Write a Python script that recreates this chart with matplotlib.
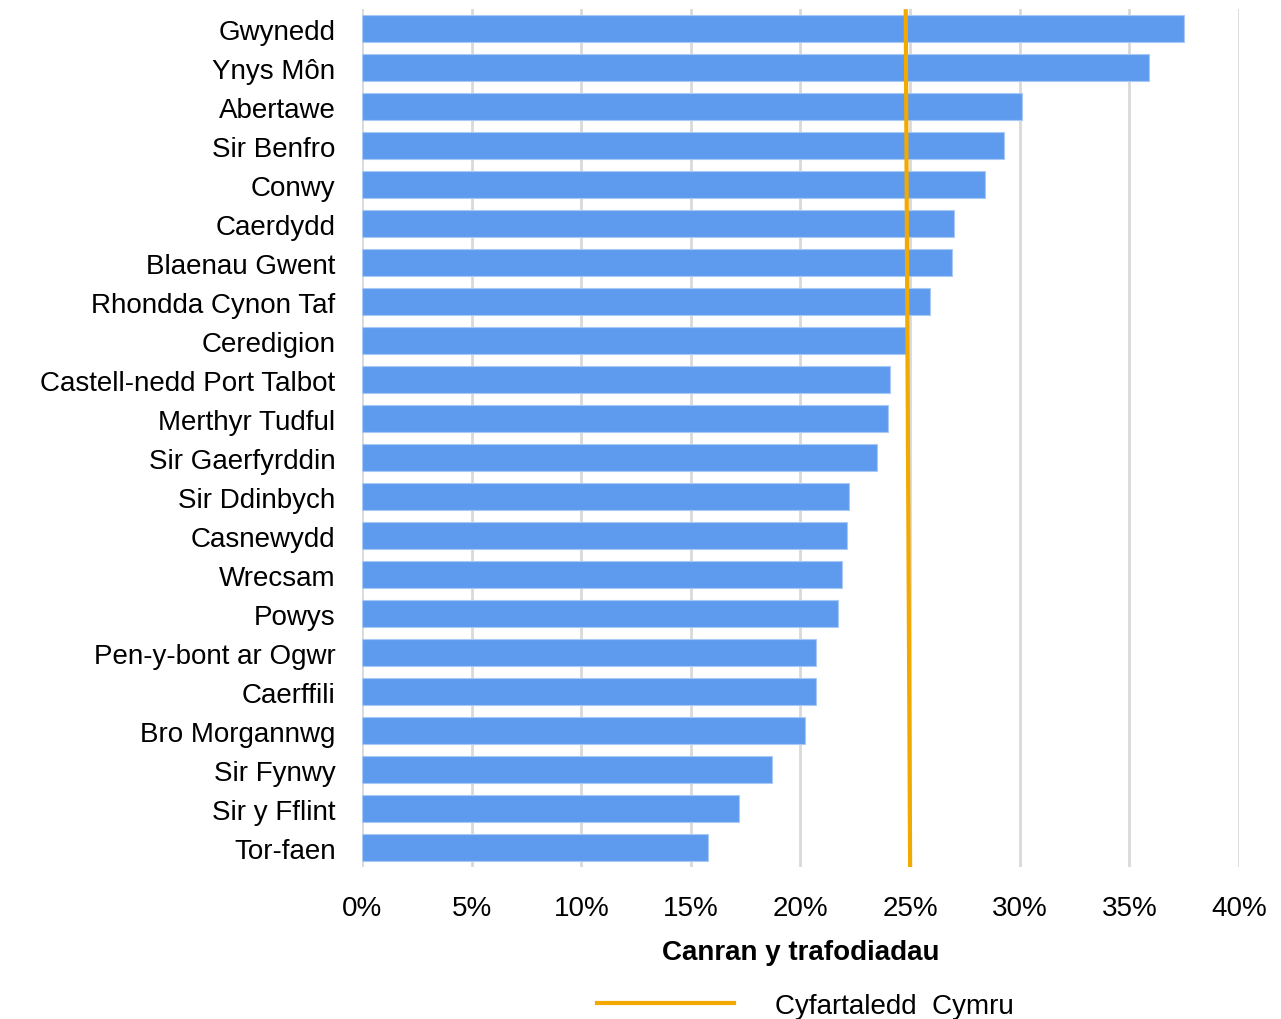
import matplotlib
matplotlib.use('Agg')
import matplotlib.pyplot as plt
from matplotlib.lines import Line2D

plt.rcParams['font.family'] = ['Liberation Sans', 'DejaVu Sans']

areas = ['Gwynedd', 'Ynys Môn', 'Abertawe', 'Sir Benfro', 'Conwy', 'Caerdydd',
         'Blaenau Gwent', 'Rhondda Cynon Taf', 'Ceredigion', 'Castell-nedd Port Talbot',
         'Merthyr Tudful', 'Sir Gaerfyrddin', 'Sir Ddinbych', 'Casnewydd', 'Wrecsam',
         'Powys', 'Pen-y-bont ar Ogwr', 'Caerffili', 'Bro Morgannwg', 'Sir Fynwy',
         'Sir y Fflint', 'Tor-faen']
share = [37.5, 35.9, 30.1, 29.3, 28.4, 27.0, 26.9, 25.9, 24.8, 24.1, 24.0, 23.5,
         22.2, 22.1, 21.9, 21.7, 20.7, 20.7, 20.2, 18.7, 17.2, 15.8]
# the average line is drawn slightly slanted in the original
avg_line = [24.8, 25.0]
xticks = [0, 5, 10, 15, 20, 25, 30, 35, 40]

fig = plt.figure(figsize=(12.81, 10.2), dpi=100)
ax = fig.add_axes([0.2826, 0.149, 0.9672 - 0.2826, 0.990 - 0.149])

pos = list(range(len(areas)))
ax.barh(pos, share, height=0.69, color='#5E9BEF', edgecolor='#A9C9F5', linewidth=0.8, zorder=2)

ax.plot(avg_line, [-0.5, 21.5], color='#F2A900', linewidth=3, zorder=3, solid_capstyle='butt')

ax.set_ylim(21.5, -0.5)
ax.set_xlim(0, 40)
ax.set_yticks(pos)
ax.set_yticklabels(areas, fontsize=20)
ax.set_xticks(xticks)
ax.set_xticklabels([f'{t}%' for t in xticks], fontsize=20)
ax.tick_params(axis='y', length=0, pad=19)
ax.tick_params(axis='x', length=0, pad=20)
ax.grid(axis='x', color='#D9D9D9', linewidth=2, zorder=0)
for s in ax.spines.values():
    s.set_visible(False)

ax.set_xlabel('Canran y trafodiadau', fontsize=20, fontweight='bold', labelpad=13)

handle = Line2D([], [], color='#F2A900', linewidth=3)
fig.legend([handle], ['Cyfartaledd  Cymru'], loc='center left', bbox_to_anchor=(0.466, 0.013),
           frameon=False, fontsize=20, handlelength=4.95, handletextpad=1.45,
           borderaxespad=0, borderpad=0)

fig.savefig('out.png', dpi=100)
